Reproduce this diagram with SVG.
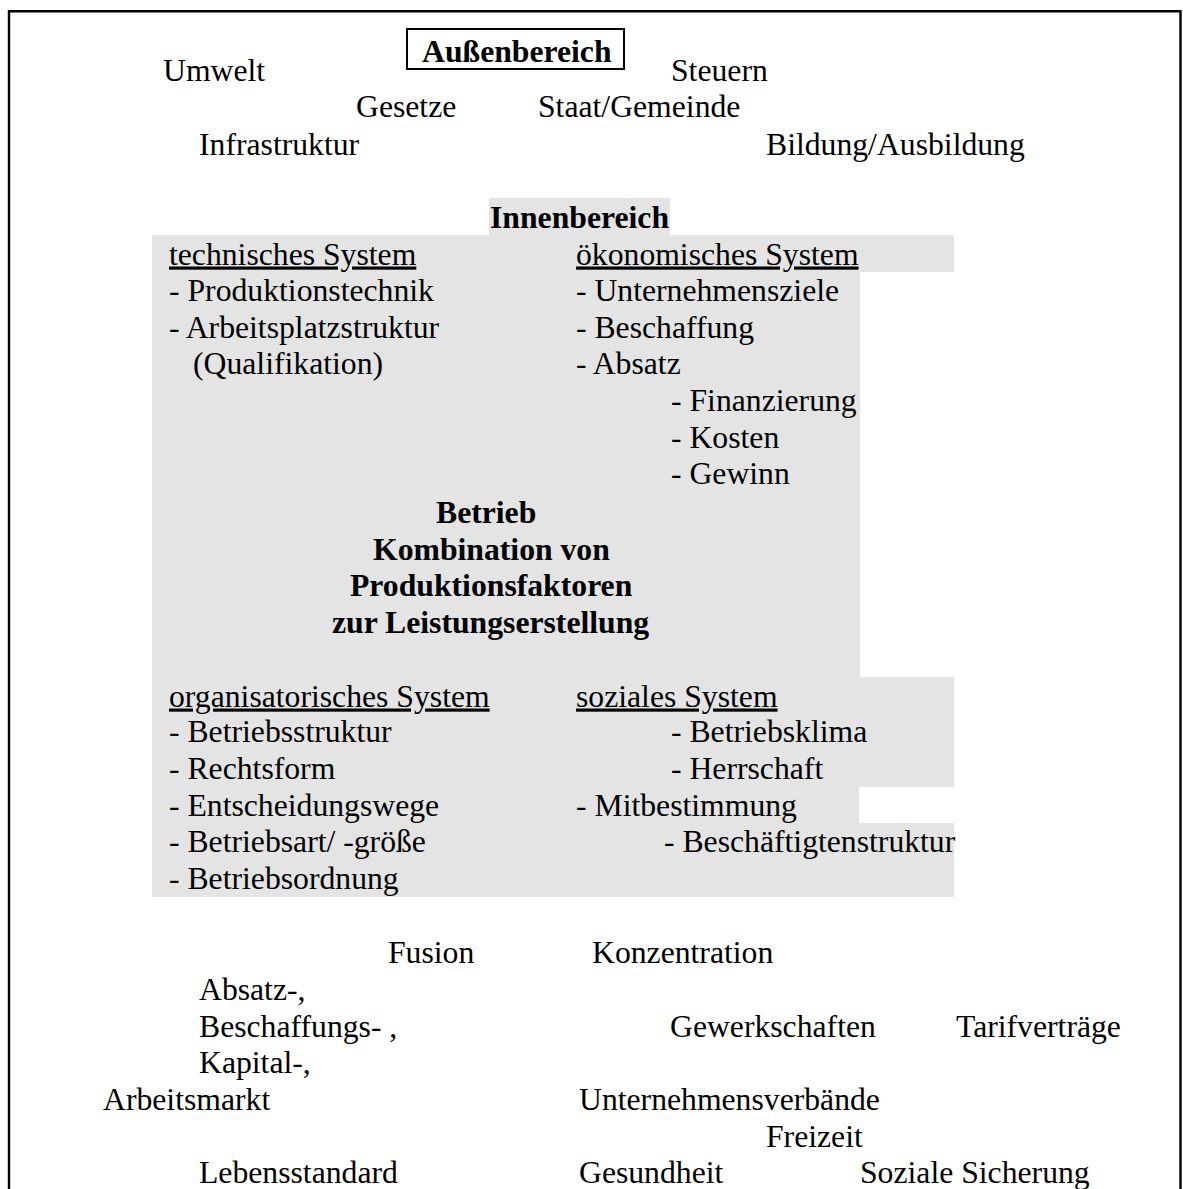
<svg xmlns="http://www.w3.org/2000/svg" width="1183" height="1189" viewBox="0 0 1183 1189">
<style>
text{font-family:"Liberation Serif","Times New Roman",serif;font-size:31.7px;fill:#000}
.b{font-weight:bold}
.u{text-decoration:underline}
.bg{fill:#e4e4e4}
</style>
<rect x="0" y="0" width="1183" height="1189" fill="#fff"/>
<g id="frame" fill="none" stroke="#000" stroke-width="2.4">
<path d="M9,1189 V11.2 H1180.5 V1189"/>
</g>
<g id="innen-bg">
<rect class="bg" x="489" y="198" width="181" height="38"/>
<path class="bg" d="M152,235 H954 V272 H860 V677 H954 V787 H859 V823 H954 V897 H152 Z"/>
</g>
<g id="aussenbereich">
<rect x="407" y="29" width="217" height="40" fill="none" stroke="#000" stroke-width="2"/>
<text class="b" x="422" y="62">Außenbereich</text>
<text x="163" y="81">Umwelt</text>
<text x="671" y="81">Steuern</text>
<text x="356" y="117">Gesetze</text>
<text x="538" y="117">Staat/Gemeinde</text>
<text x="199" y="155">Infrastruktur</text>
<text x="766" y="155">Bildung/Ausbildung</text>
</g>
<g id="innenbereich">
<text class="b" x="490" y="228">Innenbereich</text>
</g>
<g id="technisches-system">
<text class="u" x="169" y="264.5">technisches System</text>
<text x="169" y="301">- Produktionstechnik</text>
<text x="169" y="337.7">- Arbeitsplatzstruktur</text>
<text x="193" y="374.3">(Qualifikation)</text>
</g>
<g id="oekonomisches-system">
<text class="u" x="576" y="264.5">ökonomisches System</text>
<text x="576" y="301">- Unternehmensziele</text>
<text x="576" y="337.7">- Beschaffung</text>
<text x="576" y="374.3">- Absatz</text>
<text x="671" y="411">- Finanzierung</text>
<text x="671" y="447.7">- Kosten</text>
<text x="671" y="484.3">- Gewinn</text>
</g>
<g id="betrieb">
<text class="b" x="436" y="523">Betrieb</text>
<text class="b" x="373" y="559.5">Kombination von</text>
<text class="b" x="350" y="596">Produktionsfaktoren</text>
<text class="b" x="332" y="632.7">zur Leistungserstellung</text>
</g>
<g id="organisatorisches-system">
<text class="u" x="169" y="706.5">organisatorisches System</text>
<text x="169" y="742.3">- Betriebsstruktur</text>
<text x="169" y="779">- Rechtsform</text>
<text x="169" y="815.7">- Entscheidungswege</text>
<text x="169" y="852.3">- Betriebsart/ -größe</text>
<text x="169" y="889">- Betriebsordnung</text>
</g>
<g id="soziales-system">
<text class="u" x="576" y="706.5">soziales System</text>
<text x="671" y="742.3">- Betriebsklima</text>
<text x="671" y="779">- Herrschaft</text>
<text x="576" y="815.7">- Mitbestimmung</text>
<text x="664" y="852.3">- Beschäftigtenstruktur</text>
</g>
<g id="umfeld-unten">
<text x="388" y="963">Fusion</text>
<text x="592" y="963">Konzentration</text>
<text x="199" y="999.5">Absatz-,</text>
<text x="199" y="1036.5">Beschaffungs- ,</text>
<text x="670" y="1036.5">Gewerkschaften</text>
<text x="956" y="1036.5">Tarifverträge</text>
<text x="199" y="1073">Kapital-,</text>
<text x="103" y="1110">Arbeitsmarkt</text>
<text x="579" y="1110">Unternehmensverbände</text>
<text x="766" y="1146.5">Freizeit</text>
<text x="199" y="1183">Lebensstandard</text>
<text x="579" y="1183">Gesundheit</text>
<text x="860" y="1183">Soziale Sicherung</text>
</g>
<g id="connectors"/>
</svg>
